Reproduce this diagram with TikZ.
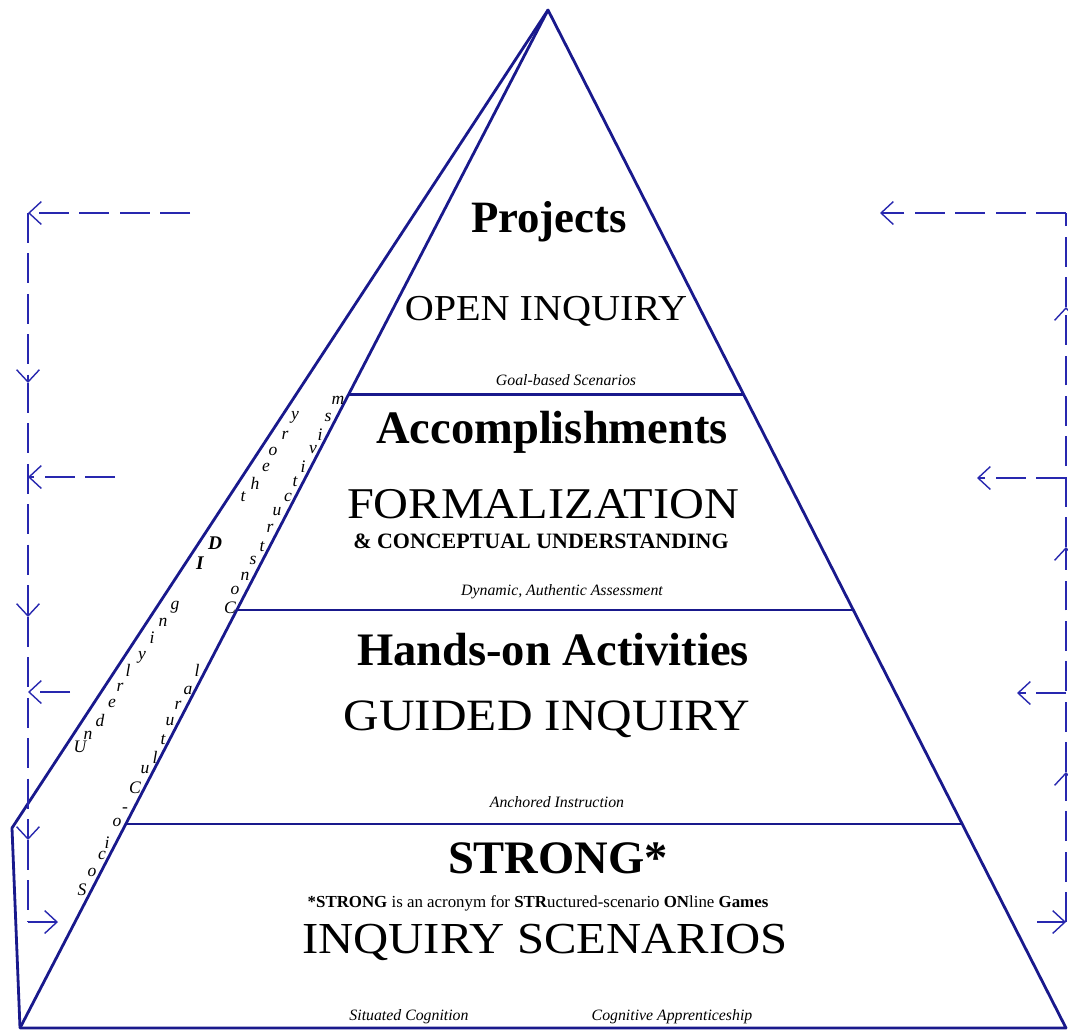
\documentclass[tikz,border=0pt]{standalone}
\usepackage{fontspec}
\setmainfont{Liberation Serif}
\newfontfamily\widefont[FakeStretch=1.1]{Liberation Serif}
\usetikzlibrary{arrows.meta,calc,positioning}
\definecolor{pyrblue}{RGB}{25,25,140}
\definecolor{loopblue}{RGB}{40,40,175}
\tikzset{
  edge/.style={draw=pyrblue,line width=1.6pt,line join=round},
  loopline/.style={draw=loopblue,line width=1.1pt,dash pattern=on 17pt off 6pt},
  looparrow/.style={loopline,-{Straight Barb[length=7pt,width=13pt,line width=0.8pt]}},
  title/.style={anchor=base,font=\fontsize{26.5}{28}\selectfont\bfseries},
  level/.style={anchor=base,font=\widefont\fontsize{25.5}{28}\selectfont},
  hint/.style={anchor=base,font=\fontsize{9}{10}\selectfont\itshape},
  strip/.style={inner sep=0pt,font=\fontsize{10}{11}\selectfont\itshape},
}

\begin{document}
\begin{tikzpicture}[x=0.02cm,y=-0.02cm]
\useasboundingbox (0,0) rectangle (1068,1032);

\coordinate (apex) at (548,10);
\coordinate (bl) at (20,1028);
\coordinate (br) at (1066,1028);
\coordinate (back) at (12,828);

\draw[edge] (bl) -- (back) -- (apex) -- (br) -- cycle;
\draw[edge] (apex) -- (bl);
\foreach \t in {0.378,0.5894,0.7996}
  \draw[edge] ($(apex)!\t!(bl)$) -- ($(apex)!\t!(br)$);

\node[title,font=\fontsize{25.5}{28}\selectfont\bfseries] (projects) at (549,232) {Projects};
\node[level,font=\widefont\fontsize{20.8}{24}\selectfont] (open) at (546,320) {OPEN INQUIRY};
\node[hint] (goal) at (566,385) {Goal-based Scenarios};

\node[title] (accomp) at (552,443) {Accomplishments};
\node[level,font=\widefont\fontsize{25}{28}\selectfont] (formal) at (543,518) {FORMALIZATION};
\node[anchor=base,font=\fontsize{12.5}{14}\selectfont\bfseries] (concept) at (541,548) {\& CONCEPTUAL UNDERSTANDING};
\node[hint] (assess) at (562,595) {Dynamic, Authentic Assessment};

\node[title] (hands) at (553,665) {Hands-on Activities};
\node[level] (guided) at (547,730) {GUIDED INQUIRY};
\node[hint] (anchored) at (557,807) {Anchored Instruction};

\node[title] (strong) at (558,873) {STRONG*};
\node[anchor=base,font=\fontsize{9.6}{11}\selectfont] (acronym) at (538,907)
  {\textbf{*STRONG} is an acronym for \textbf{STR}uctured-scenario \textbf{ON}line \textbf{Games}};
\node[level,font=\widefont\fontsize{25.2}{28}\selectfont] (scen) at (545,953) {INQUIRY SCENARIOS};
\node[hint] (situated) at (409,1020) {Situated Cognition};
\node[hint] (appr) at (672,1020) {Cognitive Apprenticeship};

\foreach \ch/\x/\y [count=\i] in {U/80/747, n/88/735, d/100/720, e/112/703, r/120/687,
    l/128/670, y/142/657, i/152/638, n/163/622, g/175/607,
    {\bfseries\fontsize{11}{12}\selectfont I}/200/563, {\bfseries\fontsize{11}{12}\selectfont D}/215/543,
    t/243/497, h/255/483, e/266/467, o/273/451, r/285/435, y/295/417}
  \node[strip] (theory\i) at (\x,\y) {\ch};

\foreach \ch/\x/\y [count=\i] in {S/82/890, o/92/872, c/102/855, i/107/843, o/117/822, -/125/810,
    C/135/788, u/145/770, l/155/757, t/163/740, u/170/722, r/178/705, a/188/690, l/197/670,
    C/230/608, o/235/590, n/245/576, s/253/560, t/262/547, r/270/528, u/277/512, c/288/497,
    t/295/482, i/303/467, v/313/450, i/320/435, s/328/417, m/338/400}
  \node[strip] (socio\i) at (\x,\y) {\ch};

\coordinate (lt) at (28,213);
\coordinate (lin) at (190,213);
\coordinate (l1) at (28,383);
\coordinate (l2) at (28,617);
\coordinate (l3) at (28,840);
\coordinate (lb) at (28,922);
\coordinate (lout) at (58,922);
\coordinate (lm1) at (28,477);
\coordinate (lm1s) at (115,477);
\coordinate (lm2) at (28,692);
\coordinate (lm2s) at (70,692);

\draw[looparrow] (lin) -- (lt);
\draw[looparrow] (lt) -- (l1);
\draw[looparrow] (l1) -- (l2);
\draw[looparrow] (l2) -- (l3);
\draw[loopline] (l3) -- (lb);
\draw[looparrow] (lb) -- (lout);
\draw[looparrow] (lm1s) -- (lm1);
\draw[looparrow] (lm2s) -- (lm2);

\coordinate (rt) at (1066,213);
\coordinate (rout) at (880,213);
\coordinate (r1) at (1066,307);
\coordinate (r2) at (1066,547);
\coordinate (r3) at (1066,772);
\coordinate (rb) at (1066,922);
\coordinate (rin) at (1037,922);
\coordinate (rm1) at (1066,478);
\coordinate (rm1e) at (977,478);
\coordinate (rm2) at (1066,693);
\coordinate (rm2e) at (1017,693);

\draw[looparrow] (rt) -- (rout);
\draw[loopline] (r1) -- (rt);
\draw[looparrow] (r2) -- (r1);
\draw[looparrow] (r3) -- (r2);
\draw[looparrow] (rb) -- (r3);
\draw[looparrow] (rin) -- (rb);
\draw[looparrow] (rm1) -- (rm1e);
\draw[looparrow] (rm2) -- (rm2e);

\end{tikzpicture}
\end{document}
